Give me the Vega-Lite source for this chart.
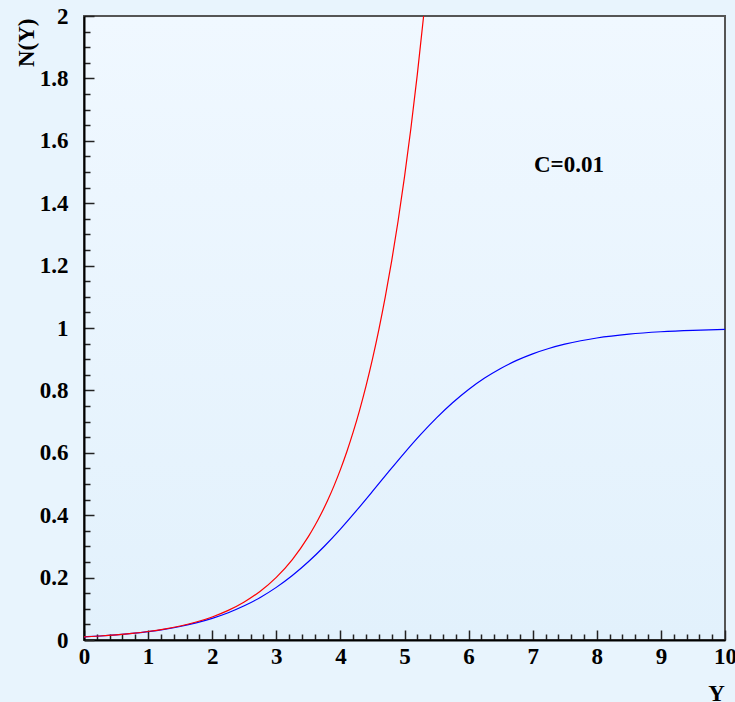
{
  "$schema": "https://vega.github.io/schema/vega-lite/v6.json",
  "autosize": "none",
  "width": 641,
  "height": 624,
  "padding": {"left": 84, "top": 16, "right": 10, "bottom": 62},
  "background": "#e8f4fd",
  "config": {
    "font": "Liberation Serif",
    "view": {
      "stroke": "#555555",
      "strokeWidth": 2,
      "fill": {"gradient": "linear", "x1": 0, "y1": 0, "x2": 0, "y2": 1, "stops": [{"offset": 0, "color": "#f0f8ff"}, {"offset": 1, "color": "#e2f1fc"}]}
    }
  },
  "datasets": {
    "red": [
      {"Y": 0, "N": 0.01},
      {"Y": 0.25, "N": 0.01284},
      {"Y": 0.5, "N": 0.016487},
      {"Y": 0.75, "N": 0.02117},
      {"Y": 1, "N": 0.027183},
      {"Y": 1.25, "N": 0.034903},
      {"Y": 1.5, "N": 0.044817},
      {"Y": 1.75, "N": 0.057546},
      {"Y": 2, "N": 0.073891},
      {"Y": 2.25, "N": 0.094877},
      {"Y": 2.5, "N": 0.121825},
      {"Y": 2.75, "N": 0.156426},
      {"Y": 3, "N": 0.200855},
      {"Y": 3.25, "N": 0.257903},
      {"Y": 3.5, "N": 0.331155},
      {"Y": 3.6, "N": 0.365982},
      {"Y": 3.7, "N": 0.404473},
      {"Y": 3.8, "N": 0.447012},
      {"Y": 3.9, "N": 0.494024},
      {"Y": 4.0, "N": 0.545982},
      {"Y": 4.1, "N": 0.603403},
      {"Y": 4.2, "N": 0.666863},
      {"Y": 4.3, "N": 0.736998},
      {"Y": 4.4, "N": 0.814509},
      {"Y": 4.5, "N": 0.900171},
      {"Y": 4.6, "N": 0.994843},
      {"Y": 4.7, "N": 1.099472},
      {"Y": 4.8, "N": 1.215104},
      {"Y": 4.9, "N": 1.342898},
      {"Y": 5.0, "N": 1.484132},
      {"Y": 5.1, "N": 1.640219},
      {"Y": 5.2, "N": 1.812722},
      {"Y": 5.2983, "N": 2.0}
    ],
    "blue": [
      {"Y": 0, "N": 0.01},
      {"Y": 0.25, "N": 0.012804},
      {"Y": 0.5, "N": 0.016381},
      {"Y": 0.75, "N": 0.020936},
      {"Y": 1, "N": 0.026724},
      {"Y": 1.25, "N": 0.034055},
      {"Y": 1.5, "N": 0.043309},
      {"Y": 1.75, "N": 0.054934},
      {"Y": 2, "N": 0.069453},
      {"Y": 2.25, "N": 0.087454},
      {"Y": 2.5, "N": 0.109572},
      {"Y": 2.75, "N": 0.136447},
      {"Y": 3, "N": 0.168664},
      {"Y": 3.25, "N": 0.206669},
      {"Y": 3.5, "N": 0.250655},
      {"Y": 3.75, "N": 0.300457},
      {"Y": 4, "N": 0.355461},
      {"Y": 4.25, "N": 0.414567},
      {"Y": 4.5, "N": 0.476237},
      {"Y": 4.75, "N": 0.538641},
      {"Y": 5, "N": 0.59986},
      {"Y": 5.25, "N": 0.658106},
      {"Y": 5.5, "N": 0.711952},
      {"Y": 5.75, "N": 0.760402},
      {"Y": 6, "N": 0.802957},
      {"Y": 6.25, "N": 0.839544},
      {"Y": 6.5, "N": 0.870443},
      {"Y": 6.75, "N": 0.896125},
      {"Y": 7, "N": 0.9172},
      {"Y": 7.25, "N": 0.934311},
      {"Y": 7.5, "N": 0.948087},
      {"Y": 7.75, "N": 0.959101},
      {"Y": 8, "N": 0.967857},
      {"Y": 8.5, "N": 0.980254},
      {"Y": 9, "N": 0.98793},
      {"Y": 9.5, "N": 0.992644},
      {"Y": 10, "N": 0.995525}
    ],
    "note": [{"Y": 7.566, "N": 1.5, "label": "C=0.01"}]
  },
  "encoding": {
    "x": {
      "field": "Y", "type": "quantitative",
      "scale": {"domain": [0, 10], "nice": false, "zero": false},
      "axis": {
        "values": [0,0.2,0.4,0.6,0.8,1,1.2,1.4,1.6,1.8,2,2.2,2.4,2.6,2.8,3,3.2,3.4,3.6,3.8,4,4.2,4.4,4.6,4.8,5,5.2,5.4,5.6,5.8,6,6.2,6.4,6.6,6.8,7,7.2,7.4,7.6,7.8,8,8.2,8.4,8.6,8.8,9,9.2,9.4,9.6,9.8,10],
        "tickCount": 200,
        "tickSize": {"condition": {"test": "abs(datum.value - round(datum.value)) < 0.001", "value": -10}, "value": -6},
        "tickColor": "#222222",
        "tickWidth": 1.5,
        "domainColor": "#000000",
        "domainWidth": 2,
        "grid": false,
        "labelExpr": "abs(datum.value - round(datum.value)) < 0.001 ? format(datum.value, 'd') : ''",
        "labelFont": "Liberation Serif",
        "labelFontSize": 23,
        "labelFontWeight": "bold",
        "labelColor": "#000000",
        "labelPadding": 15,
        "labelOverlap": false,
        "labelFlush": false,
        "title": "Y",
        "titleFont": "Liberation Serif",
        "titleFontSize": 23,
        "titleFontWeight": "bold",
        "titleColor": "#000000",
        "titleX": 632,
        "titleY": 60,
        "titleAlign": "center",
        "titleBaseline": "alphabetic",
        "titleAngle": 0
      }
    },
    "y": {
      "field": "N", "type": "quantitative",
      "scale": {"domain": [0, 2], "nice": false, "zero": false},
      "axis": {
        "values": [0,0.05,0.1,0.15,0.2,0.25,0.3,0.35,0.4,0.45,0.5,0.55,0.6,0.65,0.7,0.75,0.8,0.85,0.9,0.95,1,1.05,1.1,1.15,1.2,1.25,1.3,1.35,1.4,1.45,1.5,1.55,1.6,1.65,1.7,1.75,1.8,1.85,1.9,1.95,2],
        "tickCount": 200,
        "tickSize": {"condition": {"test": "abs(datum.value*5 - round(datum.value*5)) < 0.001", "value": -10}, "value": -6},
        "tickColor": "#222222",
        "tickWidth": 1.5,
        "domainColor": "#000000",
        "domainWidth": 2,
        "grid": false,
        "labelExpr": "abs(datum.value*5 - round(datum.value*5)) < 0.001 ? format(datum.value, '~g') : ''",
        "labelFont": "Liberation Serif",
        "labelFontSize": 23,
        "labelFontWeight": "bold",
        "labelColor": "#000000",
        "labelPadding": 26,
        "labelOverlap": false,
        "labelFlush": false,
        "title": "N(Y)",
        "titleFont": "Liberation Serif",
        "titleFontSize": 23,
        "titleFontWeight": "bold",
        "titleColor": "#000000",
        "titleAngle": -90,
        "titleX": -58,
        "titleY": 2,
        "titleAlign": "right",
        "titleBaseline": "middle"
      }
    }
  },
  "layer": [
    {
      "data": {"name": "blue"},
      "mark": {"type": "line", "color": "#0000ff", "strokeWidth": 1.2, "interpolate": "monotone"}
    },
    {
      "data": {"name": "red"},
      "mark": {"type": "line", "color": "#ff0000", "strokeWidth": 1.2, "interpolate": "monotone"}
    },
    {
      "data": {"name": "note"},
      "mark": {"type": "text", "font": "Liberation Serif", "fontSize": 23, "fontWeight": "bold", "color": "#000000", "align": "center", "baseline": "alphabetic"},
      "encoding": {
        "text": {"field": "label"}
      }
    }
  ]
}
